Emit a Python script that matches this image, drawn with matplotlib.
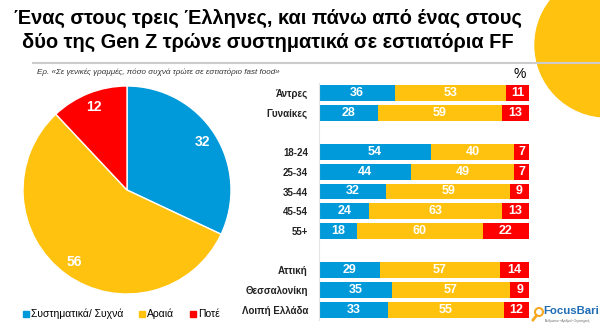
import matplotlib.pyplot as plt
import numpy as np
from matplotlib.lines import Line2D
from matplotlib.patches import Ellipse

plt.rcParams['font.family'] = ['Liberation Sans', 'DejaVu Sans']

# data
answers = ["Συστηματικά/ Συχνά", "Αραιά", "Ποτέ"]
colors = ["#0099DA", "#FFC20E", "#FF0000"]
total = [32, 56, 12]

groups = ["Άντρες", "Γυναίκες", "18-24", "25-34", "35-44", "45-54", "55+",
          "Αττική", "Θεσσαλονίκη", "Λοιπή Ελλάδα"]
often = [36, 28, 54, 44, 32, 24, 18, 29, 35, 33]
rarely = [53, 59, 40, 49, 59, 63, 60, 57, 57, 55]
never = [11, 13, 7, 7, 9, 13, 22, 14, 9, 12]
rows = [0, 1, 3, 4, 5, 6, 7, 9, 10, 11]  # blank rows separate the blocks

W, H = 600, 327
fig = plt.figure(figsize=(W / 100, H / 100), dpi=100)


def px(x, y, w=0, h=0):
    # pixel box (top-left origin) -> figure fraction rect
    return [x / W, 1 - (y + h) / H, w / W, h / H]


# orange decoration, top right
fig.add_artist(Ellipse((607 / W, 1 - 45 / H), 2 * 72 / W, 2 * 72 / H,
                       transform=fig.transFigure, color="#FFC20E", zorder=0))

fig.text(268 / W, 1 - 30.5 / H,
         "Ένας στους τρεις Έλληνες, και πάνω από ένας στους\nδύο της Gen Z τρώνε συστηματικά σε εστιατόρια FF",
         ha="center", va="center", fontsize=14.4, fontweight="bold", linespacing=1.32)

fig.add_artist(Line2D([33 / W, 1], [1 - 63 / H] * 2, transform=fig.transFigure,
                      color="#CCCCCC", lw=1.5, zorder=1))
fig.text(37 / W, 1 - 72 / H,
         "Ερ. «Σε γενικές γραμμές, πόσο συχνά τρώτε σε εστιατόριο fast food»",
         ha="left", va="center", fontsize=5.8, style="italic", color="#333333")

# pie
ax_pie = fig.add_axes(px(23, 86, 208, 208))
wedges, texts = ax_pie.pie(total, colors=colors, startangle=90, counterclock=False,
                           labels=[str(v) for v in total], labeldistance=0.86,
                           wedgeprops=dict(edgecolor="white", linewidth=1))
for t in texts:
    t.set_color("white")
    t.set_fontweight("bold")
    t.set_fontsize(10)
    t.set_ha("center")
    t.set_va("center")
ax_pie.set_xlim(-1, 1)
ax_pie.set_ylim(-1, 1)
ax_pie.set_aspect("equal")

handles = [Line2D([], [], marker="s", ls="", color=c, markersize=4) for c in colors]
fig.legend(handles, answers, loc="center", bbox_to_anchor=(121 / W, 1 - 314 / H),
           ncol=3, frameon=False, fontsize=7.5, handletextpad=0.1,
           columnspacing=1.4, handlelength=0.8)

# stacked bars
row_h = 19.7
ax = fig.add_axes(px(319, 93 - row_h / 2, 210, 12 * row_h))
sums = np.array(often) + np.array(rarely) + np.array(never)
left = np.zeros(len(groups))
for vals, c in zip([often, rarely, never], colors):
    w = np.array(vals) / sums * 100
    ax.barh(rows, w, left=left, height=0.8, color=c)
    for y, l, ww, v in zip(rows, left, w, vals):
        ax.text(l + ww / 2, y, str(v), ha="center", va="center",
                color="white", fontsize=9, fontweight="bold")
    left += w

ax.set_xlim(0, 100)
ax.set_ylim(11.5, -0.5)
ax.set_yticks(rows)
ax.set_yticklabels(groups, fontsize=7, fontweight="bold", color="#222222")
ax.tick_params(axis="y", length=0, pad=8)
ax.set_xticks([])
for s in ["top", "right", "bottom"]:
    ax.spines[s].set_visible(False)
ax.spines["left"].set_color("#E5E5E5")
ax.spines["left"].set_linewidth(0.8)

fig.text(520 / W, 1 - 74 / H, "%", ha="center", va="center", fontsize=10)

# logo
fig.add_artist(Ellipse((539 / W, 1 - 312 / H), 8 / W, 8 / H, transform=fig.transFigure,
                       fill=False, edgecolor="#F7A823", lw=1.5))
fig.add_artist(Line2D([536.5 / W, 533 / W], [1 - 315.5 / H, 1 - 320 / H],
                      transform=fig.transFigure, color="#F7A823", lw=2))
fig.text(543 / W, 1 - 311 / H, "FocusBari", ha="left", va="center", fontsize=8.2,
         color="#1F6DB5", fontweight="bold")
fig.text(545 / W, 1 - 321 / H, "Άνθρωποι • Αριθμοί • Στρατηγική", ha="left",
         va="center", fontsize=2.2, color="#666666")

fig.savefig("out.png", dpi=100)
